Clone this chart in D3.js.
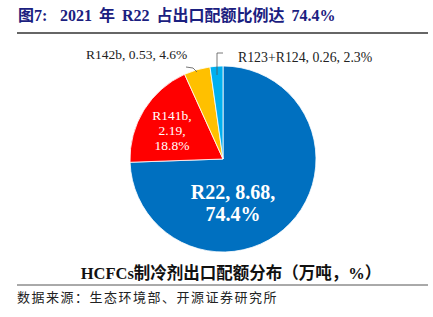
<!DOCTYPE html>
<html>
<head>
<meta charset="utf-8">
<script src="https://cdn.jsdelivr.net/npm/d3@7"></script>
<style>
  body { margin: 0; background: #fff; }
  text { font-family: "Liberation Serif", "Noto Sans CJK SC", serif; }
</style>
</head>
<body>
<svg id="chart" width="433" height="317"></svg>
<script>
// data
var names = ["R22", "R141b", "R142b", "R123+R124"];
var values = [8.68, 2.19, 0.53, 0.26];
var shares = ["74.4%", "18.8%", "4.6%", "2.3%"];
var colors = ["#0070C0", "#FF0000", "#FFC000", "#00B0F0"];

var svg = d3.select("#chart"),
    cx = 223, cy = 159, r = 93;

// title
var tt = svg.append("text").attr("y", 21)
  .style("font-size", "16px").style("font-weight", "bold").attr("fill", "#1b2080");
tt.append("tspan").attr("x", 18).text("图7:");
tt.append("tspan").attr("x", 60).style("word-spacing", "3px").text("2021 年 R22 占出口配额比例达 74.4%");
svg.append("line").attr("x1", 17).attr("x2", 428).attr("y1", 33).attr("y2", 33)
  .attr("stroke", "#333").attr("stroke-width", 1.3);

var pie = d3.pie().sort(null).value(function(d) { return d; });
var arcs = pie(values);
var arc = d3.arc().innerRadius(0).outerRadius(r);

var g = svg.append("g").attr("transform", "translate(" + cx + "," + cy + ")");
g.selectAll("path").data(arcs).enter().append("path")
  .attr("d", arc)
  .attr("fill", function(d, i) { return colors[i]; })
  .attr("stroke", "#fff").attr("stroke-width", 0.8);

// inside labels
function inLabel(x, y, lines, size, bold, lh) {
  var t = g.append("text").attr("text-anchor", "middle").attr("fill", "#fff")
    .style("font-size", size + "px").style("font-weight", bold ? "bold" : "normal");
  lines.forEach(function(s, k) {
    t.append("tspan").attr("x", x).attr("y", y + k * lh).text(s);
  });
}
inLabel(10, 40, [names[0] + ", " + values[0] + ",", shares[0]], 20, true, 22);
inLabel(-51, -39, [names[1] + ",", values[1] + ",", shares[1]], 13.5, false, 15);

// outside labels with leaders
svg.append("text").attr("x", 86).attr("y", 59).style("font-size", "13.5px").attr("fill", "#222")
  .text(names[2] + ", " + values[2] + ", " + shares[2]);
svg.append("path").attr("d", "M186,67 L193,68 L197,72")
  .attr("fill", "none").attr("stroke", "#555").attr("stroke-width", 0.8);

svg.append("text").attr("x", 238).attr("y", 62).style("font-size", "13.8px").attr("fill", "#222")
  .text(names[3] + ", " + values[3] + ", " + shares[3]);
svg.append("path").attr("d", "M223,53 L217,53 L217,75")
  .attr("fill", "none").attr("stroke", "#555").attr("stroke-width", 0.8);

// subtitle
svg.append("text").attr("x", 231).attr("y", 279).attr("text-anchor", "middle")
  .style("font-size", "16.5px").style("font-weight", "bold").attr("fill", "#111")
  .text("HCFCs制冷剂出口配额分布（万吨，%）");
svg.append("line").attr("x1", 17).attr("x2", 428).attr("y1", 285).attr("y2", 285)
  .attr("stroke", "#555").attr("stroke-width", 1);
svg.append("text").attr("x", 17).attr("y", 302)
  .style("font-size", "13px").style("letter-spacing", "1.5px").attr("fill", "#222")
  .text("数据来源：生态环境部、开源证券研究所");
</script>
</body>
</html>
